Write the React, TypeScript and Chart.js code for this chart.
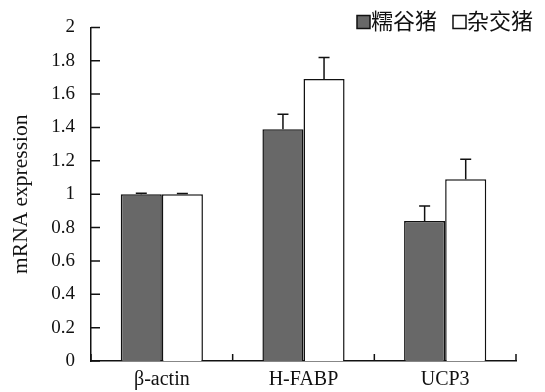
import React, { useEffect, useRef } from "react";
import { Chart, registerables } from "chart.js";

Chart.register(...registerables);

const categories = ["β-actin", "H-FABP", "UCP3"];
const seriesNames = ["糯谷猪", "杂交猪"];
const nuoguValues = [1.0, 1.39, 0.84];
const nuoguErrors = [0.005, 0.09, 0.09];
const hybridValues = [1.0, 1.69, 1.09];
const hybridErrors = [0.004, 0.13, 0.12];
const yTickLabels = ["0", "0.2", "0.4", "0.6", "0.8", "1", "1.2", "1.4", "1.6", "1.8", "2"];
const yAxisTitle = "mRNA expression";

const SERIF = '"Liberation Serif", "Times New Roman", serif';
const CJK = '"Noto Sans CJK SC", "Noto Sans", sans-serif';
const DARK = "#686868";

const errorBarPlugin = {
  id: "errorBars",
  afterDatasetsDraw(chart: any) {
    const ctx = chart.ctx;
    const y = chart.scales.y;
    ctx.save();
    ctx.strokeStyle = "#111";
    ctx.lineWidth = 1.5;
    chart.data.datasets.forEach((ds: any, di: number) => {
      const meta = chart.getDatasetMeta(di);
      meta.data.forEach((el: any, i: number) => {
        const v = ds.data[i];
        const e = ds.errors[i];
        const top = y.getPixelForValue(v + e);
        ctx.beginPath();
        ctx.moveTo(el.x, el.y);
        ctx.lineTo(el.x, top);
        ctx.moveTo(el.x - 5.5, top);
        ctx.lineTo(el.x + 5.5, top);
        ctx.stroke();
      });
    });
    ctx.restore();
  },
};

const innerTicksPlugin = {
  id: "innerTicks",
  afterDraw(chart: any) {
    const ctx = chart.ctx;
    const x = chart.scales.x;
    const y = chart.scales.y;
    ctx.save();
    ctx.strokeStyle = "#111";
    ctx.lineWidth = 1.5;
    ctx.beginPath();
    const ax = y.right;
    y.ticks.forEach((t: any) => {
      const py = y.getPixelForValue(t.value);
      ctx.moveTo(ax, py);
      ctx.lineTo(ax + 9, py);
    });
    const n = categories.length;
    const step = n > 1 ? x.getPixelForValue(1) - x.getPixelForValue(0) : x.width;
    for (let i = 0; i <= n; i++) {
      const px = i < n ? x.getPixelForValue(i) - step / 2 : x.getPixelForValue(n - 1) + step / 2;
      ctx.moveTo(px, x.top);
      ctx.lineTo(px, x.top - 7);
    }
    ctx.stroke();
    ctx.restore();
  },
};

const legendPlugin = {
  id: "customLegend",
  afterDraw(chart: any) {
    const ctx = chart.ctx;
    const dsets = chart.data.datasets;
    ctx.save();
    ctx.font = `22px ${CJK}`;
    ctx.textBaseline = "middle";
    ctx.textAlign = "left";
    const box = 13;
    const gap = 1;
    const spacing = 16;
    const cy = 21;
    let xr = 533;
    const items: any[] = [];
    for (let i = dsets.length - 1; i >= 0; i--) {
      const w = ctx.measureText(dsets[i].label).width;
      const tx = xr - w;
      const bx = tx - gap - box;
      items.push({ ds: dsets[i], tx, bx });
      xr = bx - spacing;
    }
    items.forEach((it) => {
      ctx.fillStyle = it.ds.backgroundColor;
      ctx.fillRect(it.bx, cy - box / 2 + 1, box, box);
      ctx.strokeStyle = "#111";
      ctx.lineWidth = 1.5;
      ctx.strokeRect(it.bx, cy - box / 2 + 1, box, box);
      ctx.fillStyle = "#111";
      ctx.fillText(it.ds.label, it.tx, cy);
    });
    ctx.restore();
  },
};

export default function App() {
  const ref = useRef<HTMLCanvasElement | null>(null);
  useEffect(() => {
    document.body.style.margin = "0";
    const canvas = ref.current;
    if (!canvas) return;
    const chart = new Chart(canvas, {
      type: "bar",
      data: {
        labels: categories,
        datasets: [
          {
            label: seriesNames[0],
            data: nuoguValues,
            errors: nuoguErrors,
            backgroundColor: DARK,
            borderColor: "#111",
            borderWidth: 1.5,
            barPercentage: 1.0,
            categoryPercentage: 0.58,
          } as any,
          {
            label: seriesNames[1],
            data: hybridValues,
            errors: hybridErrors,
            backgroundColor: "#ffffff",
            borderColor: "#111",
            borderWidth: 1.5,
            barPercentage: 1.0,
            categoryPercentage: 0.58,
          } as any,
        ],
      },
      options: {
        responsive: false,
        animation: false,
        layout: { padding: { top: 16, right: 29, left: 0, bottom: 0 } },
        plugins: {
          legend: { display: false },
          tooltip: { enabled: false },
        },
        scales: {
          x: {
            grid: { display: false, drawTicks: false },
            border: { display: true, color: "#111", width: 1.5 },
            ticks: { color: "#111", padding: 7, font: { family: SERIF, size: 20 } },
            afterFit: (s: any) => {
              s.height = 31;
            },
          },
          y: {
            min: 0,
            max: 2,
            grid: { display: false, drawTicks: false },
            border: { display: true, color: "#111", width: 1.5 },
            ticks: {
              stepSize: 0.2,
              color: "#111",
              padding: 16,
              font: { family: SERIF, size: 19 },
              callback: (_v: any, i: number) => yTickLabels[i],
            },
            title: {
              display: true,
              text: yAxisTitle,
              color: "#111",
              font: { family: SERIF, size: 21.5 },
              padding: { top: 8, bottom: 0 },
            },
            afterFit: (s: any) => {
              s.width = 91;
            },
          },
        },
      } as any,
      plugins: [errorBarPlugin, innerTicksPlugin, legendPlugin],
    });
    return () => chart.destroy();
  }, []);
  return (
    <div style={{ position: "absolute", left: 0, top: 0, width: 545, height: 392 }}>
      <canvas ref={ref} width={545} height={392} />
    </div>
  );
}
